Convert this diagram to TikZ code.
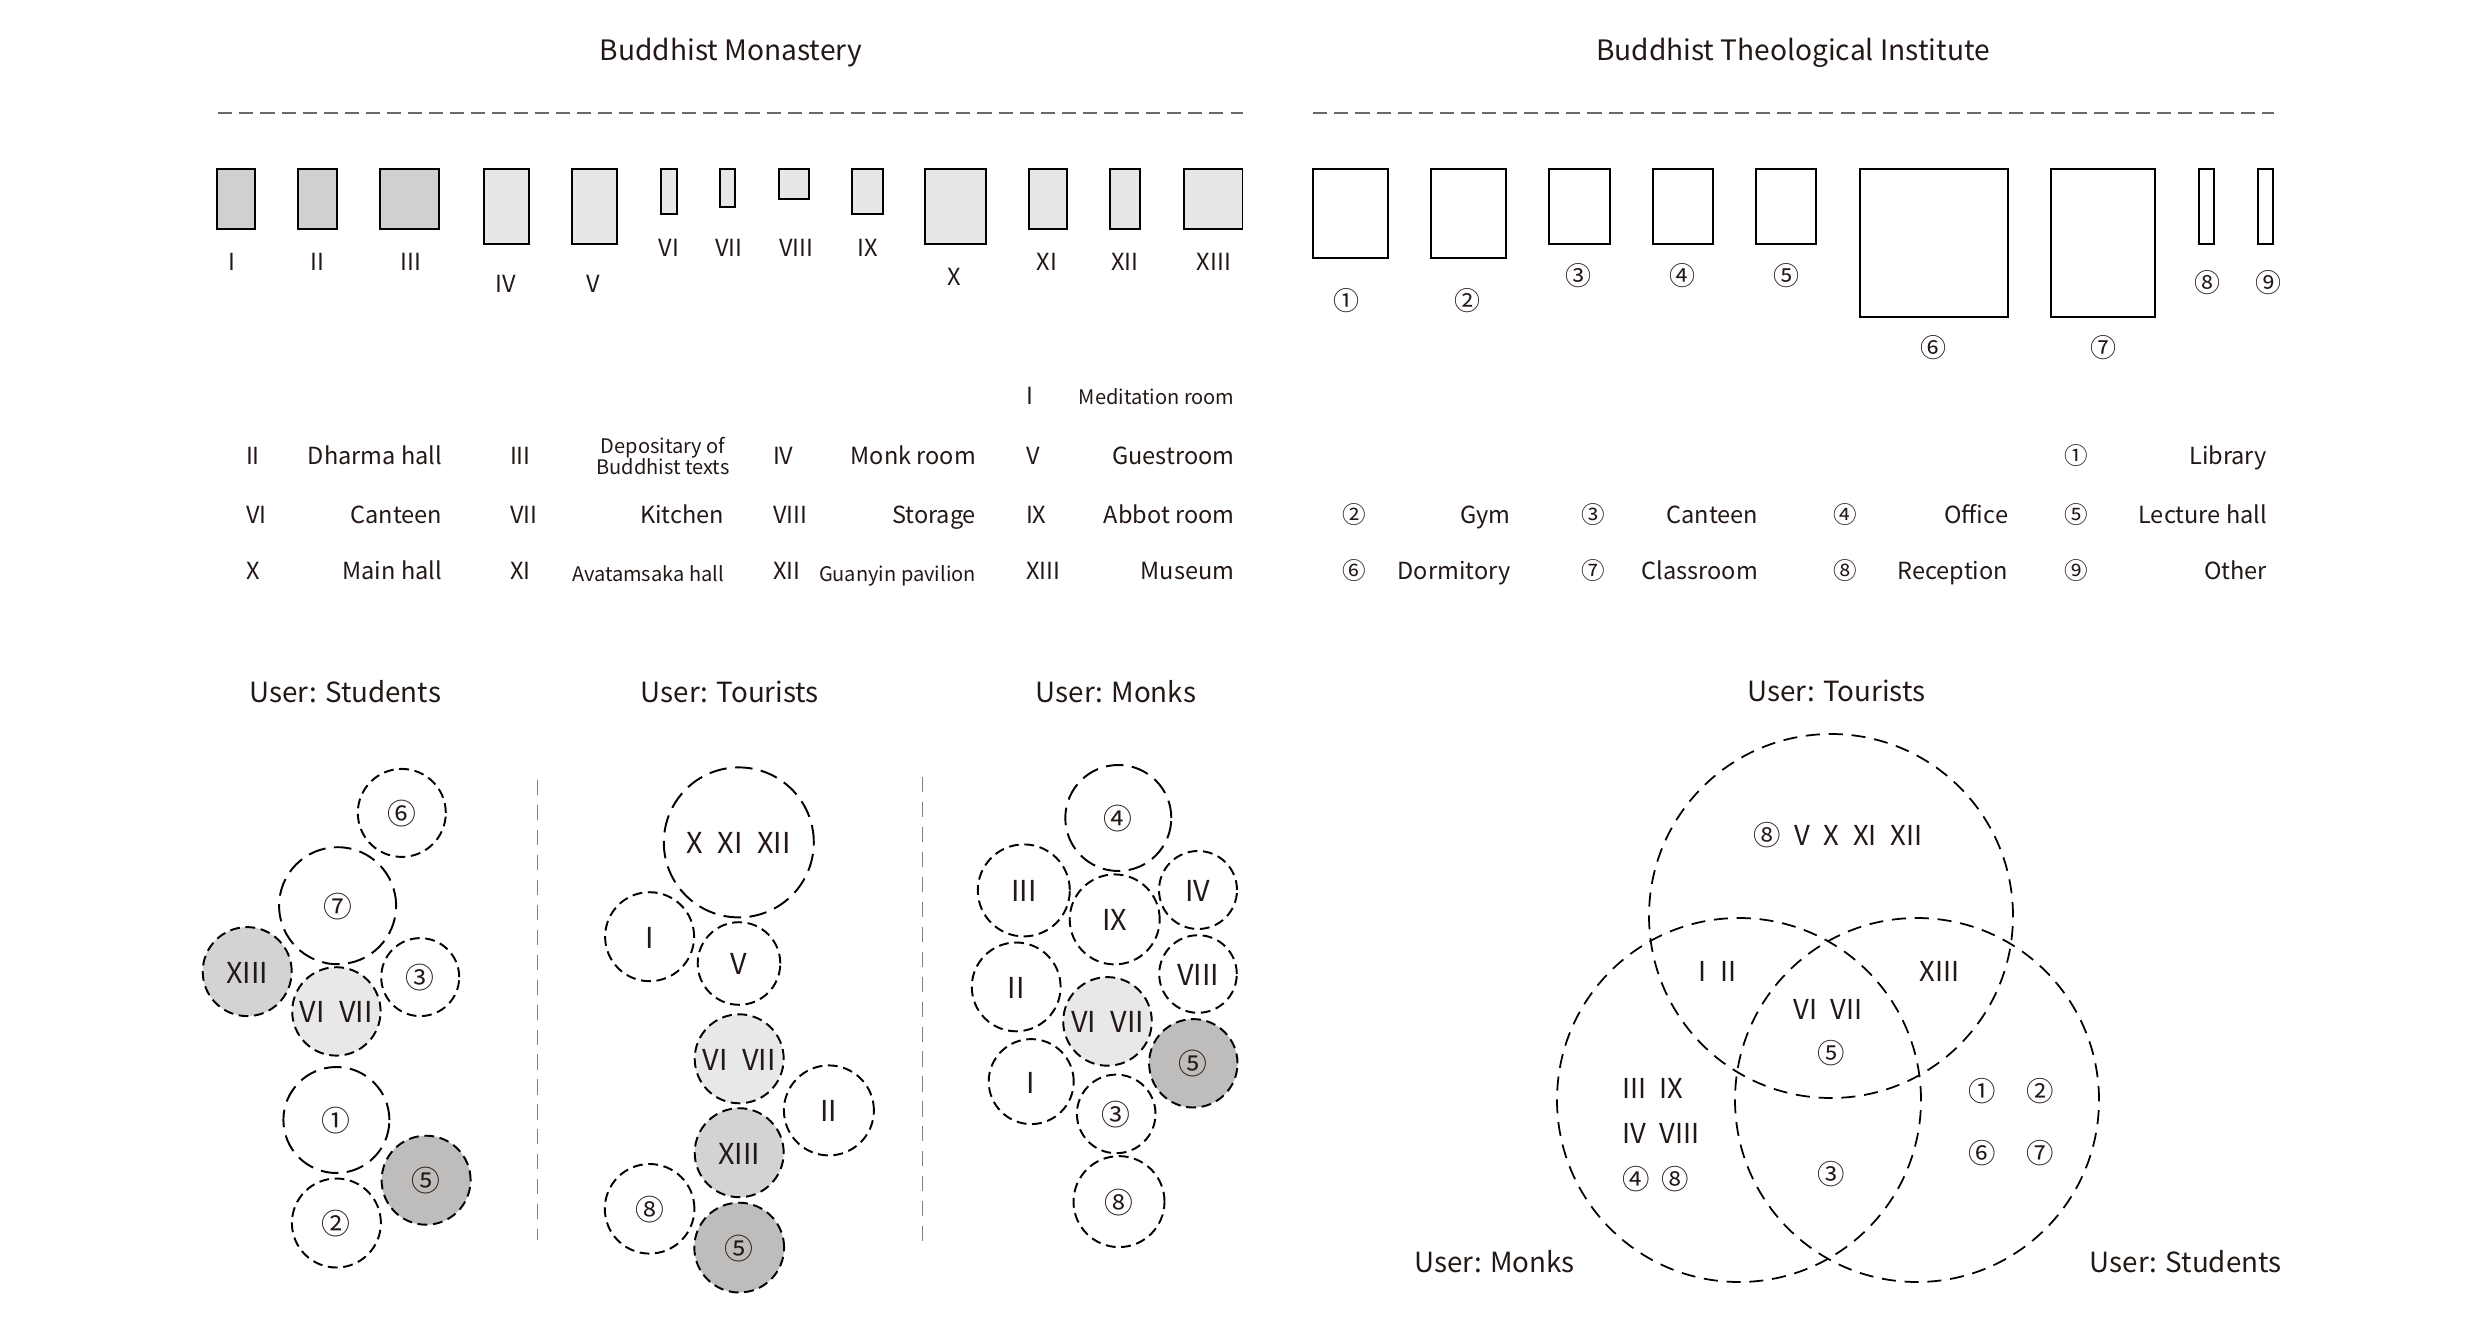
\documentclass[tikz,border=0pt]{standalone}
\usepackage{fontspec}
\setmainfont{Noto Sans CJK SC}
\usetikzlibrary{positioning}
\definecolor{ink}{RGB}{35,24,21}
\definecolor{hallA}{RGB}{208,208,211}
\definecolor{hallB}{RGB}{231,231,231}
\definecolor{zoneMid}{RGB}{211,211,214}
\definecolor{zoneLight}{RGB}{232,232,232}
\definecolor{zoneDark}{RGB}{191,188,188}
\definecolor{ruleGray}{RGB}{105,105,105}
\newcommand{\numgap}{\hspace{0.5em}}
\tikzset{
        x=0.1mm, y=-0.1mm, % one unit is one pixel of the sheet, y grows downwards
        every node/.style={text=ink, inner sep=0pt, outer sep=0pt},
        heading/.style={font=\fontsize{8.0}{10}\selectfont}, % the two column titles
        user/.style={font=\fontsize{7.9}{9}\selectfont, text height=0.5em, text depth=0pt},
        tag/.style={font=\fontsize{6.7}{8}\selectfont, text height=0.48em, text depth=0pt},
        digit/.style={font=\fontsize{7.4}{8}\selectfont, text height=0.5em, text depth=0pt},
        smalltext/.style={font=\fontsize{5.7}{6.5}\selectfont, text height=0.73em, text depth=0pt},
        venntext/.style={font=\fontsize{7.8}{9}\selectfont, text height=0.5em, text depth=0pt},
        room/.style 2 args={draw=black, line width=0.55pt, anchor=north west,
                minimum width={#1*0.1mm}, minimum height={#2*0.1mm}}, % a plan block, width x height
        zone/.style={circle, draw=black, line width=0.55pt, dash pattern=on 2.8pt off 1.6pt,
                minimum size={#1*0.2mm}, font=\fontsize{8.2}{9}\selectfont,
                text height=0.65em, text depth=0pt}, % a bubble of radius #1
        widezone/.style={zone=#1, dash pattern=on 5pt off 2.4pt},
        venn/.style={circle, draw=black, line width=0.5pt, dash pattern=on 4pt off 2.5pt,
                minimum size={#1*0.2mm}},
        rule/.style={draw=ruleGray, line width=0.55pt, dash pattern=on 4pt off 2pt},
        divider/.style={draw=ruleGray!85, line width=0.4pt, dash pattern=on 4.3pt off 2.8pt},
    }
\begin{document}
\begin{tikzpicture}
    \useasboundingbox (0,0) rectangle (2480,1324);

    % titles and rules
    \node[heading, anchor=base] (tMon) at (731,61) {Buddhist Monastery};
    \node[heading, anchor=base] (tIns) at (1793,61) {Buddhist Theological Institute};
    \coordinate (rMonA) at (218.3,113.3);
    \coordinate (rMonB) at (1243,113.3);
    \coordinate (rInsA) at (1313.3,113.3);
    \coordinate (rInsB) at (2274,113.3);
    \draw[rule] (rMonA) -- (rMonB);
    \draw[rule] (rInsA) -- (rInsB);

    % monastery blocks
    \node[room={38.5}{60}, fill=hallA] (m1) at (216.9,169.3) {};
    \node[room={38.6}{60}, fill=hallA] (m2) at (298,169.3) {};
    \node[room={59.5}{60}, fill=hallA] (m3) at (379.8,169.3) {};
    \node[room={45.3}{74.4}, fill=hallB] (m4) at (483.9,169.3) {};
    \node[room={45.3}{74.4}, fill=hallB] (m5) at (571.8,169.3) {};
    \node[room={15.5}{44.7}, fill=hallB] (m6) at (661.1,169.3) {};
    \node[room={15.5}{37.7}, fill=hallB] (m7) at (719.9,169.3) {};
    \node[room={30.4}{30}, fill=hallB] (m8) at (778.7,169.3) {};
    \node[room={30.4}{44.7}, fill=hallB] (m9) at (852.4,169.3) {};
    \node[room={60.2}{74.4}, fill=hallB] (m10) at (925.4,169.3) {};
    \node[room={37.9}{59.7}, fill=hallB] (m11) at (1028.8,169.3) {};
    \node[room={29.7}{59.7}, fill=hallB] (m12) at (1110,169.3) {};
    \node[room={58.9}{59.7}, fill=hallB] (m13) at (1183.6,169.3) {};
    \node[tag] (lm1) at (232.4,261.7) {I};
    \node[tag] (lm2) at (317,261.7) {II};
    \node[tag] (lm3) at (411,261.7) {III};
    \node[tag] (lm4) at (505.6,284) {IV};
    \node[tag] (lm5) at (593.5,284) {V};
    \node[tag] (lm6) at (669,248.3) {VI};
    \node[tag] (lm7) at (728.7,248.3) {VII};
    \node[tag] (lm8) at (796.3,248.3) {VIII};
    \node[tag] (lm9) at (868,248.3) {IX};
    \node[tag] (lm10) at (953.8,277) {X};
    \node[tag] (lm11) at (1047,261.7) {XI};
    \node[tag] (lm12) at (1124.8,261.7) {XII};
    \node[tag] (lm13) at (1214,261.7) {XIII};

    % institute blocks
    \node[room={75.2}{89}] (i1) at (1312.8,169.3) {};
    \node[room={75.3}{89}] (i2) at (1430.7,169.3) {};
    \node[room={61.3}{74.4}] (i3) at (1548.7,169.3) {};
    \node[room={59.9}{74.4}] (i4) at (1652.7,169.3) {};
    \node[room={60}{74.4}] (i5) at (1756,169.3) {};
    \node[room={148}{147.4}] (i6) at (1860,169.3) {};
    \node[room={103.6}{147.4}] (i7) at (2051,169.3) {};
    \node[room={15}{74.4}] (i8) at (2199,169.3) {};
    \node[room={14.6}{74.4}] (i9) at (2258,169.3) {};
    \node[digit] (li1) at (1346,301.7) {①};
    \node[digit] (li2) at (1467.7,301.7) {②};
    \node[digit] (li3) at (1578.7,276.7) {③};
    \node[digit] (li4) at (1682.7,276.7) {④};
    \node[digit] (li5) at (1786,276.7) {⑤};
    \node[digit] (li6) at (1933,348.3) {⑥};
    \node[digit] (li7) at (2103.6,348.3) {⑦};
    \node[digit] (li8) at (2207.5,283.3) {⑧};
    \node[digit] (li9) at (2268,283.3) {⑨};

    % monastery legend
    \node[tag, anchor=west] (k1) at (1026,396.3) {I};
    \node[smalltext, anchor=east] (n1) at (1234.4,392) {Meditation room};
    \node[tag, anchor=west] (k2) at (246,456.3) {II};
    \node[tag, anchor=east] (n2) at (442,456.3) {Dharma hall};
    \node[tag, anchor=west] (k3) at (510,456.3) {III};
    \node[font=\fontsize{5.7}{6.1}\selectfont, align=center] (n3) at (663,456) {Depositary of\\Buddhist texts};
    \node[tag, anchor=west] (k4) at (773,456.3) {IV};
    \node[tag, anchor=east] (n4) at (976,456.3) {Monk room};
    \node[tag, anchor=west] (k5) at (1026,456.3) {V};
    \node[tag, anchor=east] (n5) at (1234.4,456.3) {Guestroom};
    \node[tag, anchor=west] (k6) at (246,514.7) {VI};
    \node[tag, anchor=east] (n6) at (442,514.7) {Canteen};
    \node[tag, anchor=west] (k7) at (510,514.7) {VII};
    \node[tag, anchor=east] (n7) at (724,514.7) {Kitchen};
    \node[tag, anchor=west] (k8) at (773,514.7) {VIII};
    \node[tag, anchor=east] (n8) at (976,514.7) {Storage};
    \node[tag, anchor=west] (k9) at (1026,514.7) {IX};
    \node[tag, anchor=east] (n9) at (1234.4,514.7) {Abbot room};
    \node[tag, anchor=west] (k10) at (246,571.3) {X};
    \node[tag, anchor=east] (n10) at (442,571.3) {Main hall};
    \node[tag, anchor=west] (k11) at (510,571.3) {XI};
    \node[smalltext, anchor=east] (n11) at (724,568.6) {Avatamsaka hall};
    \node[tag, anchor=west] (k12) at (773,571.3) {XII};
    \node[smalltext, anchor=east] (n12) at (976,568.6) {Guanyin pavilion};
    \node[tag, anchor=west] (k13) at (1026,571.3) {XIII};
    \node[tag, anchor=east] (n13) at (1234.4,571.3) {Museum};

    % institute legend
    \node[tag] (c1) at (2076,456.3) {①};
    \node[tag, anchor=east] (e1) at (2267,456.3) {Library};
    \node[tag] (c2) at (1354,514.7) {②};
    \node[tag, anchor=east] (e2) at (1510.5,514.7) {Gym};
    \node[tag] (c3) at (1593.4,514.7) {③};
    \node[tag, anchor=east] (e3) at (1758,514.7) {Canteen};
    \node[tag] (c4) at (1845.3,514.7) {④};
    \node[tag, anchor=east] (e4) at (2008,514.7) {Office};
    \node[tag] (c5) at (2076,514.7) {⑤};
    \node[tag, anchor=east] (e5) at (2267,514.7) {Lecture hall};
    \node[tag] (c6) at (1354,571.3) {⑥};
    \node[tag, anchor=east] (e6) at (1510.5,571.3) {Dormitory};
    \node[tag] (c7) at (1593.4,571.3) {⑦};
    \node[tag, anchor=east] (e7) at (1758,571.3) {Classroom};
    \node[tag] (c8) at (1845.3,571.3) {⑧};
    \node[tag, anchor=east] (e8) at (2008,571.3) {Reception};
    \node[tag] (c9) at (2076,571.3) {⑨};
    \node[tag, anchor=east] (e9) at (2267,571.3) {Other};

    % bubbles: students
    \node[user] (uStu) at (345.2,694) {User: Students};
    \node[zone=44] (s6) at (401.8,812.9) {⑥};
    \node[widezone=58.5] (s7) at (337.6,905.7) {⑦};
    \node[zone=44.5, fill=zoneMid] (s13) at (247.2,971.6) {XIII};
    \node[zone=44.2, fill=zoneLight] (s67) at (336.4,1011.4) {VI\numgap VII};
    \node[zone=39] (s3) at (420.2,977.1) {③};
    \node[widezone=53] (s1) at (336.4,1120) {①};
    \node[zone=44.5, fill=zoneDark] (s5) at (426.1,1180.2) {⑤};
    \node[zone=44.5] (s2) at (336.4,1223) {②};
    \coordinate (dA1) at (537.7,780);
    \coordinate (dA2) at (537.7,1239.5);
    \draw[divider] (dA1) -- (dA2);

    % bubbles: tourists
    \node[user] (uTou) at (729.8,694) {User: Tourists};
    \node[widezone=75] (t10) at (738.8,842.4) {X\numgap XI\numgap XII};
    \node[zone=44.5] (t1) at (649.6,936.7) {I};
    \node[zone=41.3] (t5) at (739,963.5) {V};
    \node[zone=44.5, fill=zoneLight] (t67) at (739.2,1058.8) {VI\numgap VII};
    \node[zone=45] (t2) at (828.9,1110.4) {II};
    \node[zone=44.5, fill=zoneMid] (t13) at (739.2,1152.7) {XIII};
    \node[zone=44.8] (t8) at (649.6,1208.8) {⑧};
    \node[zone=44.9, fill=zoneDark] (tL5) at (739.2,1247.6) {⑤};
    \coordinate (dB1) at (922.7,777);
    \coordinate (dB2) at (922.7,1241);
    \draw[divider] (dB1) -- (dB2);

    % bubbles: monks
    \node[user] (uMon) at (1116,694) {User: Monks};
    \node[widezone=53] (b4) at (1118.3,818) {④};
    \node[zone=46] (b3) at (1023.8,890.4) {III};
    \node[zone=45] (b9) at (1114.7,919.4) {IX};
    \node[zone=39] (b4r) at (1198,890) {IV};
    \node[zone=44.4] (b2) at (1016.2,986.9) {II};
    \node[zone=38.8] (b8r) at (1198,974) {VIII};
    \node[zone=44.3, fill=zoneLight] (b67) at (1107.5,1021.4) {VI\numgap VII};
    \node[zone=44.2, fill=zoneDark] (b5) at (1193.3,1063.3) {⑤};
    \node[zone=42.5] (b1) at (1031.2,1081.6) {I};
    \node[zone=39.3] (b3c) at (1116.2,1113.9) {③};
    \node[zone=45.5] (b8c) at (1119,1201.6) {⑧};

    % overlap of the three users
    \node[venn=182] (vTou) at (1831,916) {};
    \node[venn=182] (vMon) at (1739,1100) {};
    \node[venn=182] (vStu) at (1917,1100) {};
    \node[user] (lTou) at (1836.3,693) {User: Tourists};
    \node[user] (lMon) at (1494.5,1263.5) {User: Monks};
    \node[user] (lStu) at (2185.8,1263.5) {User: Students};
    \node[venntext] (vt1) at (1837.7,836.7) {⑧\numgap V\numgap X\numgap XI\numgap XII};
    \node[venntext] (vt2) at (1717.7,972.6) {I\numgap II};
    \node[venntext] (vt3) at (1939.7,972.6) {XIII};
    \node[venntext] (vt4) at (1828,1010.9) {VI\numgap VII};
    \node[venntext] (vt5) at (1831.2,1054.9) {⑤};
    \node[venntext, anchor=west] (vm1) at (1622,1089.3) {III\numgap IX};
    \node[venntext, anchor=west] (vm2) at (1622,1135.2) {IV\numgap VIII};
    \node[venntext, anchor=west] (vm3) at (1622,1181.2) {④\hspace{0.45em}⑧};
    \node[venntext] (vt6) at (1831.2,1175.4) {③};
    \node[venntext] (vs1) at (2011,1093.1) {①\hspace{1.1em}②};
    \node[venntext] (vs2) at (2011,1154.4) {⑥\hspace{1.1em}⑦};
\end{tikzpicture}
\end{document}
